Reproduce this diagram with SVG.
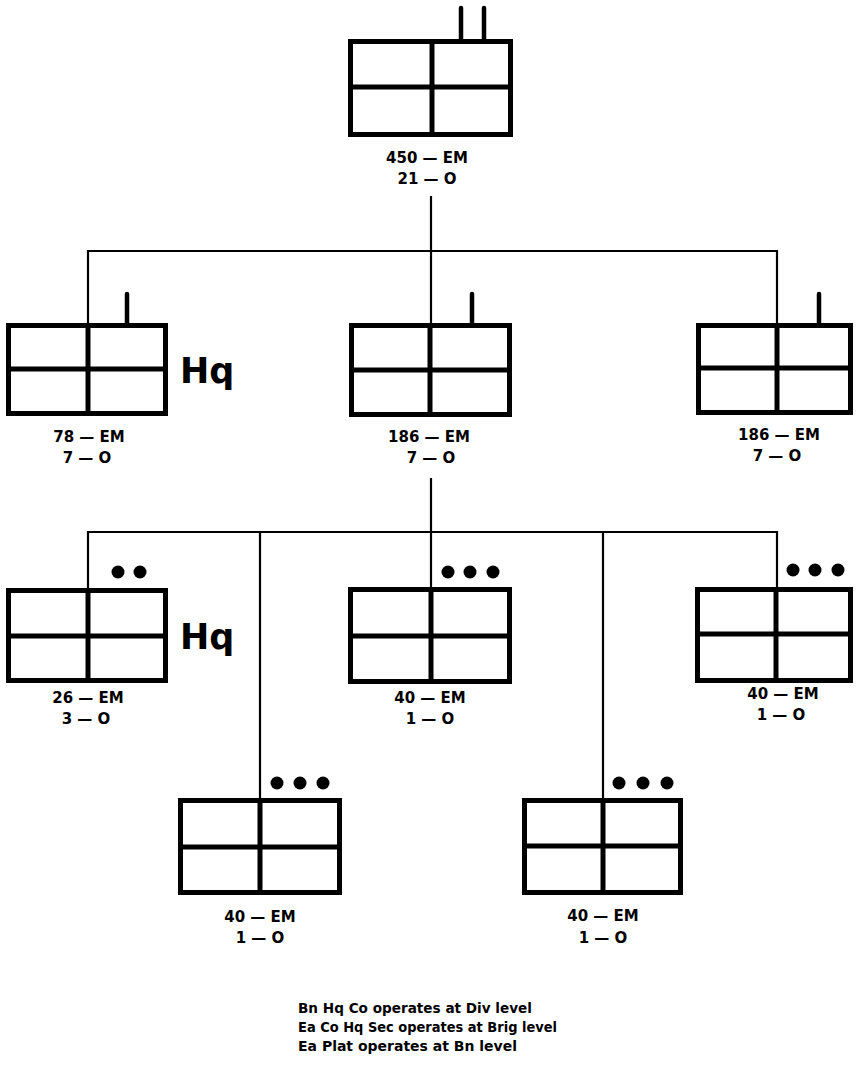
<svg xmlns="http://www.w3.org/2000/svg" width="857" height="1070" viewBox="0 0 857 1070">
<style>
.box{fill:#fff;stroke:#000;stroke-width:5}
.div{stroke:#000;stroke-width:5;fill:none}
.tick{stroke:#000;stroke-width:4.5;stroke-linecap:round;fill:none}
.conn{stroke:#000;stroke-width:2.2;fill:none}
.dot{fill:#000}
.lbl{font-family:"DejaVu Sans","Liberation Sans",sans-serif;font-weight:bold;font-size:15px;text-anchor:middle;fill:#000}
.hq{font-family:"DejaVu Sans","Liberation Sans",sans-serif;font-weight:bold;font-size:35px;fill:#000}
.note{font-family:"DejaVu Sans","Liberation Sans",sans-serif;font-weight:bold;font-size:14px;fill:#000}
</style>
<rect width="857" height="1070" fill="#fff"/>
<g id="connectors">
<line class="conn" x1="431" y1="196" x2="431" y2="323"/>
<polyline class="conn" points="88,323 88,251 777,251 777,323"/>
<line class="conn" x1="431" y1="478" x2="431" y2="587"/>
<polyline class="conn" points="88,588 88,532 777,532 777,587"/>
<line class="conn" x1="260" y1="532" x2="260" y2="798"/>
<line class="conn" x1="603" y1="532" x2="603" y2="798"/>
</g>
<g id="node-top">
<line class="tick" x1="461" y1="8" x2="461" y2="39"/>
<line class="tick" x1="484" y1="8" x2="484" y2="39"/>
<rect class="box" x="350.5" y="41.5" width="160" height="93"/>
<line class="div" x1="432" y1="41" x2="432" y2="135"/>
<line class="div" x1="350" y1="87" x2="511" y2="87"/>
<text class="lbl" x="427" y="163">450 — EM</text>
<text class="lbl" x="427" y="184">21 — O</text>
</g>
<g id="node-hq-co">
<line class="tick" x1="127" y1="294" x2="127" y2="323"/>
<rect class="box" x="8.5" y="325.5" width="157" height="88"/>
<line class="div" x1="88" y1="325" x2="88" y2="414"/>
<line class="div" x1="8" y1="369" x2="166" y2="369"/>
<text class="hq" x="180" y="383">Hq</text>
<text class="lbl" x="89" y="442">78 — EM</text>
<text class="lbl" x="87" y="463">7 — O</text>
</g>
<g id="node-co-center">
<line class="tick" x1="472" y1="294" x2="472" y2="323"/>
<rect class="box" x="351.5" y="325.5" width="158" height="89"/>
<line class="div" x1="430" y1="325" x2="430" y2="415"/>
<line class="div" x1="351" y1="370" x2="510" y2="370"/>
<text class="lbl" x="429" y="442">186 — EM</text>
<text class="lbl" x="431" y="463">7 — O</text>
</g>
<g id="node-co-right">
<line class="tick" x1="819" y1="294" x2="819" y2="323"/>
<rect class="box" x="698.5" y="325.5" width="152" height="87"/>
<line class="div" x1="777" y1="325" x2="777" y2="413"/>
<line class="div" x1="698" y1="368" x2="851" y2="368"/>
<text class="lbl" x="779" y="440">186 — EM</text>
<text class="lbl" x="777" y="461">7 — O</text>
</g>
<g id="node-hq-sec">
<circle class="dot" cx="118" cy="572" r="6.5"/>
<circle class="dot" cx="140" cy="572" r="6.5"/>
<rect class="box" x="8.5" y="590.5" width="157" height="90"/>
<line class="div" x1="88" y1="590" x2="88" y2="681"/>
<line class="div" x1="8" y1="636" x2="166" y2="636"/>
<text class="hq" x="180" y="649">Hq</text>
<text class="lbl" x="88" y="703">26 — EM</text>
<text class="lbl" x="86" y="724">3 — O</text>
</g>
<g id="node-plat-center">
<circle class="dot" cx="448" cy="572" r="6.5"/>
<circle class="dot" cx="470" cy="572" r="6.5"/>
<circle class="dot" cx="493" cy="572" r="6.5"/>
<rect class="box" x="350.5" y="589.5" width="159" height="92"/>
<line class="div" x1="431" y1="589" x2="431" y2="682"/>
<line class="div" x1="350" y1="636" x2="510" y2="636"/>
<text class="lbl" x="430" y="703">40 — EM</text>
<text class="lbl" x="430" y="724">1 — O</text>
</g>
<g id="node-plat-right">
<circle class="dot" cx="793" cy="570" r="6.5"/>
<circle class="dot" cx="815" cy="570" r="6.5"/>
<circle class="dot" cx="838" cy="570" r="6.5"/>
<rect class="box" x="697.5" y="589.5" width="153" height="91"/>
<line class="div" x1="776" y1="589" x2="776" y2="681"/>
<line class="div" x1="697" y1="634" x2="851" y2="634"/>
<text class="lbl" x="783" y="699">40 — EM</text>
<text class="lbl" x="781" y="720">1 — O</text>
</g>
<g id="node-plat-bl">
<circle class="dot" cx="277" cy="783" r="6.5"/>
<circle class="dot" cx="300" cy="783" r="6.5"/>
<circle class="dot" cx="323" cy="783" r="6.5"/>
<rect class="box" x="180.5" y="800.5" width="159" height="92"/>
<line class="div" x1="260" y1="800" x2="260" y2="893"/>
<line class="div" x1="180" y1="847" x2="340" y2="847"/>
<text class="lbl" x="260" y="922">40 — EM</text>
<text class="lbl" x="260" y="943">1 — O</text>
</g>
<g id="node-plat-br">
<circle class="dot" cx="619" cy="783" r="6.5"/>
<circle class="dot" cx="643" cy="783" r="6.5"/>
<circle class="dot" cx="667" cy="783" r="6.5"/>
<rect class="box" x="524.5" y="800.5" width="156" height="92"/>
<line class="div" x1="603" y1="800" x2="603" y2="893"/>
<line class="div" x1="524" y1="846" x2="681" y2="846"/>
<text class="lbl" x="603" y="921">40 — EM</text>
<text class="lbl" x="603" y="943">1 — O</text>
</g>
<g id="notes">
<text class="note" x="298" y="1013" textLength="234" lengthAdjust="spacingAndGlyphs">Bn Hq Co operates at Div level</text>
<text class="note" x="298" y="1032" textLength="259" lengthAdjust="spacingAndGlyphs">Ea Co Hq Sec operates at Brig level</text>
<text class="note" x="298" y="1051" textLength="219" lengthAdjust="spacingAndGlyphs">Ea Plat operates at Bn level</text>
</g>
</svg>
